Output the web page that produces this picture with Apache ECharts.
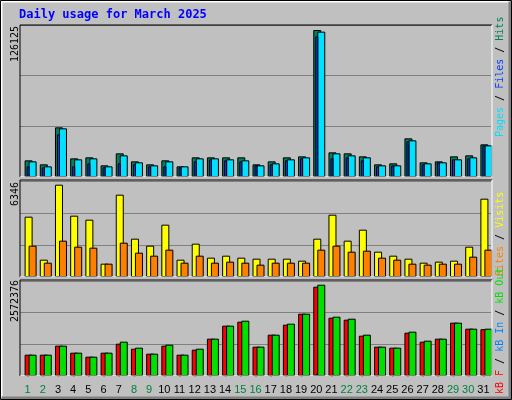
<!DOCTYPE html>
<html>
<head>
<meta charset="utf-8">
<script src="https://cdn.jsdelivr.net/npm/echarts@6/dist/echarts.min.js"></script>
<style>body{margin:0;background:#fff}#c{width:512px;height:400px}</style>
</head>
<body>
<div id="c"></div>
<script>
// days of the month
var days = ['1','2','3','4','5','6','7','8','9','10','11','12','13','14','15','16','17','18','19','20','21','22','23','24','25','26','27','28','29','30','31'];
var weekend = ['1','2','8','9','15','16','22','23','29','30'];

var hits = [14300,10868,42614,16016,16874,10010,20306,13442,10868,14300,9152,16874,16874,16874,16874,10868,13442,16874,17732,126125,21164,20306,17732,10868,11726,33176,12584,13442,17732,18590,28028];
var files = [13442,9152,41756,15158,16016,9152,18590,12584,10010,13442,9152,16016,16016,15158,14300,10010,11726,15158,16874,124696,20306,18590,16874,10010,10010,31460,11726,12584,15158,16874,27170];
var pages = [9152,8294,36608,9152,11726,8294,11726,10868,9152,9152,8294,13442,15158,14300,13442,10010,10868,14300,16016,120692,16016,16874,14300,9152,10010,30602,10868,12584,15158,16016,27170];

var visits = [4147,1191,6346,4215,3941,916,5659,2635,2154,3597,1191,2291,1329,1466,1329,1260,1260,1260,1123,2635,4284,2497,3253,1741,1466,1260,985,1054,1123,2085,5384];
var sites = [2154,985,2497,2085,2016,916,2360,1672,1466,1879,985,1466,985,1054,985,848,985,985,985,1879,2154,1741,1810,1329,1191,916,848,916,916,1398,1879];

var kbF = [600832,600832,854308,657160,544504,657160,910636,769816,628996,854308,600832,741652,1051456,1417588,1530244,826144,1164112,1445752,1755556,2515984,1642900,1586572,1135948,826144,797980,1220440,966964,1051456,1502080,1333096,1320000];
var kbIn = [4000,4000,4000,4000,4000,4000,4000,4000,4000,4000,4000,4000,4000,4000,4000,4000,4000,4000,4000,60000,4000,4000,4000,4000,4000,4000,4000,4000,4000,4000,4000];
var kbOut = [600832,600832,854308,657160,544504,657160,966964,797980,628996,882472,600832,769816,1051456,1417588,1558408,826144,1164112,1473916,1755556,2572376,1671064,1614736,1164112,826144,797980,1248604,995128,1051456,1502080,1333096,1333096];

var mono = 'DejaVu Sans Mono';
var grids = [], xAxes = [], yAxes = [], series = [];

function layer(top, height, shift, max, data, color, width, showGrid, showLabels) {
    var i = grids.length;
    grids.push({left: 20 + shift, width: 471, top: top, height: height});
    xAxes.push({
        type: 'category', data: days, gridIndex: i,
        axisLine: {show: false}, axisTick: {show: false},
        axisLabel: showLabels ? {
            show: true, interval: 0, fontFamily: 'Liberation Sans', fontSize: 11, margin: 8,
            color: function (v) { return weekend.indexOf(v) >= 0 ? '#008040' : '#000'; }
        } : {show: false}
    });
    yAxes.push({
        type: 'value', gridIndex: i, min: 0, max: max, interval: max / 3,
        axisLabel: {show: false}, axisLine: {show: false}, axisTick: {show: false},
        splitLine: {show: showGrid, lineStyle: {color: '#808080', width: 1}}
    });
    series.push({
        type: 'bar', xAxisIndex: i, yAxisIndex: i, data: data, barWidth: width,
        silent: true, animation: false,
        itemStyle: {color: color, borderColor: '#000', borderWidth: 1}
    });
}

var pBg = [];
function panel(y, h) {
    pBg.push({type: 'rect', shape: {x: 20, y: y, width: 472, height: h}, style: {fill: '#c0c0c0'}, z: -2});
    pBg.push({type: 'polyline', shape: {points: [[20, y + h], [20, y], [492, y]]}, style: {stroke: '#000', lineWidth: 1}, z: 10});
    pBg.push({type: 'polyline', shape: {points: [[492, y], [492, y + h], [20, y + h]]}, style: {stroke: '#fff', lineWidth: 1}, z: 10});
}
panel(25, 152); panel(180, 97); panel(280, 96);

// top panel
layer(25, 152, 0, 130416, [], '#000', 1, true, false);
layer(25, 152, 1, 130416, hits, '#00805c', 8, false, false);
layer(25, 152, 5, 130416, files, '#00e0ff', 8, false, false);
layer(25, 152, 0.5, 130416, pages, '#0040ff', 3, false, false);
// middle panel
layer(181, 96, 0, 6600, [], '#000', 1, true, false);
layer(181, 96, 1, 6600, visits, '#ffff00', 8, false, false);
layer(181, 96, 5, 6600, sites, '#ff8000', 8, false, false);
// bottom panel
layer(281, 95, 0, 2676600, [], '#000', 1, true, true);
layer(281, 95, 1, 2676600, kbF, '#ff0000', 8, false, false);
layer(281, 95, 5, 2676600, kbOut, '#00e000', 8, false, false);
layer(281, 95, 0.5, 2676600, kbIn, '#0080ff', 2, false, false);

var fnt = '10px ' + mono;
function vtext(x, y, rich, text) {
    return {type: 'text', x: x, y: y, rotation: Math.PI / 2, z: 20,
        style: {text: text, rich: rich, font: fnt, textAlign: 'left', textVerticalAlign: 'middle', fill: '#000'}};
}

var graphic = [
    {type: 'rect', shape: {x: 0, y: 0, width: 512, height: 400}, style: {fill: '#c0c0c0'}, z: -5},
    {type: 'polyline', shape: {points: [[1.5, 398], [1.5, 1.5], [510, 1.5]]}, style: {stroke: '#fff', lineWidth: 2}, z: -4},
    {type: 'polyline', shape: {points: [[510, 1.5], [510, 398], [1.5, 398]]}, style: {stroke: '#808080', lineWidth: 3}, z: -4},
    {type: 'rect', shape: {x: 0.5, y: 0.5, width: 511, height: 399}, style: {fill: null, stroke: '#000', lineWidth: 1}, z: -3},
    {type: 'text', x: 19, y: 15, z: 20, style: {text: 'Daily usage for March 2025', font: 'bold 12px ' + mono, fill: '#0000ff', textVerticalAlign: 'middle'}},
    vtext(15, 62, {}, '126125'),
    vtext(15, 206, {}, '6346'),
    vtext(15, 322, {}, '2572376'),
    vtext(500, 137, {p: {fill: '#00e0ff', font: fnt}, f: {fill: '#0040ff', font: fnt}, h: {fill: '#00805c', font: fnt}, s: {fill: '#000', font: fnt}},
        '{p|Pages}{s| / }{f|Files}{s| / }{h|Hits}'),
    vtext(500, 276, {a: {fill: '#ff8000', font: fnt}, b: {fill: '#ffff00', font: fnt}, s: {fill: '#000', font: fnt}},
        '{a|Sites}{s| / }{b|Visits}'),
    vtext(500, 394, {r: {fill: '#ff0000', font: fnt}, i: {fill: '#0080ff', font: fnt}, o: {fill: '#00e000', font: fnt}, s: {fill: '#000', font: fnt}},
        '{r|kB F}{s| / }{i|kB In}{s| / }{o|kB Out}')
].concat(pBg);

var chart = echarts.init(document.getElementById('c'), null, {renderer: 'canvas'});
chart.setOption({
    animation: false,
    grid: grids, xAxis: xAxes, yAxis: yAxes, series: series,
    graphic: graphic
});
</script>
</body>
</html>
